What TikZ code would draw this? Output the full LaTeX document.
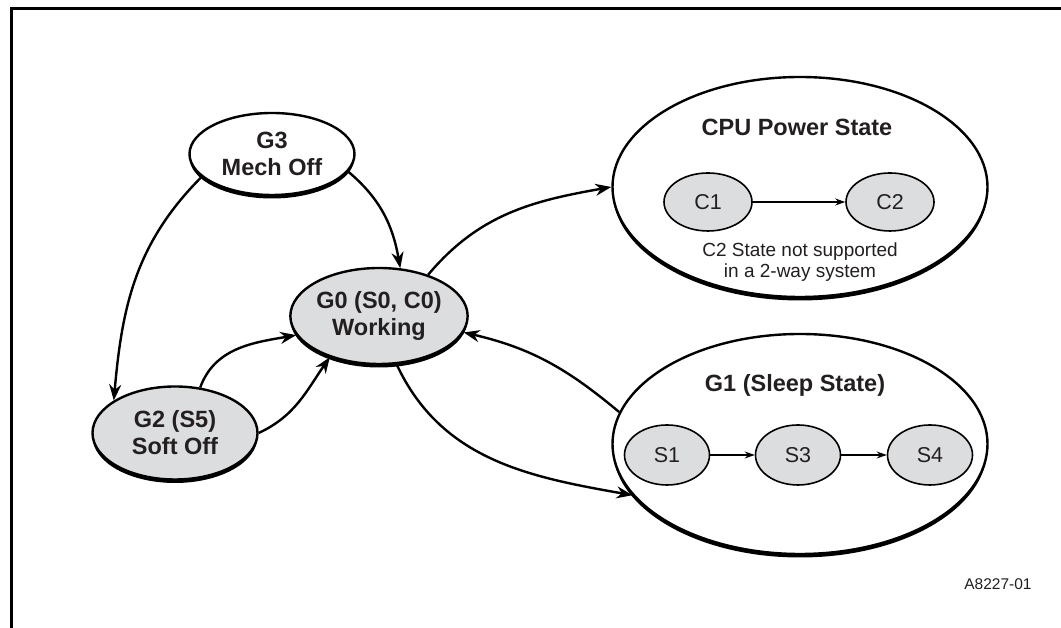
\documentclass[tikz,border=0pt]{standalone}
\usepackage{fontspec}
\setmainfont{Liberation Sans}
\usepackage{tikz}
\usetikzlibrary{arrows.meta,shapes.geometric,shadows}
\definecolor{ink}{HTML}{231F20}
\definecolor{state}{HTML}{DCDDDF}

\begin{document}
\begin{tikzpicture}[x=1pt,y=1pt,>={Stealth[length=16pt,width=12pt]},
  shade/.style={drop shadow={shadow xshift=0pt,shadow yshift=-3.5pt,fill=black,opacity=1}},
  gstate/.style={ellipse,draw=black,line width=2.4pt,fill=state,inner sep=0pt,shade,
    align=center,text=ink,font=\fontsize{23.5}{27}\selectfont\bfseries},
  group/.style={ellipse,draw=black,line width=2.4pt,fill=white,inner sep=0pt,shade},
  substate/.style={ellipse,draw=black,line width=1.6pt,fill=state,inner sep=0pt,
    text=ink,font=\fontsize{21.5}{24}\selectfont},
  title/.style={text=ink,font=\fontsize{23.5}{27}\selectfont\bfseries},
  flow/.style={line width=2.4pt,->},
  step arrow/.style={line width=1.3pt,-{Stealth[length=10pt,width=7pt]}}]
\useasboundingbox (0,0) rectangle (1061,628);
\draw[line width=3pt] (11,-2) -- (11,619) -- (1063,619);

\node[gstate,fill=white,minimum width=165pt,minimum height=82pt] (g3) at (272,474) {G3\\Mech Off};
\node[gstate,minimum width=163pt,minimum height=96pt] (g0) at (379,312) {G0 (S0, C0)\\Working};
\node[gstate,minimum width=165pt,minimum height=93pt] (g2) at (175,195) {G2 (S5)\\Soft Off};

\node[group,minimum width=375pt,minimum height=220pt] (cpu) at (800,441) {};
\node[title] (cputitle) at (797,501) {CPU Power State};
\node[substate,minimum width=88pt,minimum height=58pt] (c1) at (708,426) {C1};
\node[substate,minimum width=88pt,minimum height=58pt] (c2) at (890,426) {C2};
\draw[step arrow] (c1) -- (c2);
\node[text=ink,align=center,font=\fontsize{19}{20.5}\selectfont] (cnote) at (800,366)
  {C2 State not supported\\in a 2-way system};

\node[group,minimum width=375pt,minimum height=220pt] (g1) at (800,184) {};
\node[title] (g1title) at (795,243) {G1 (Sleep State)};
\foreach \n/\x/\t in {s1/667/S1,s3/798/S3,s4/930/S4}
  \node[substate,minimum width=85pt,minimum height=60pt] (\n) at (\x,173) {\t};
\draw[step arrow] (s1) -- (s3);
\draw[step arrow] (s3) -- (s4);

\draw[flow] (g3.198) to[out=225,in=85] (g2.152);
\draw[flow] (g3.347) to[out=-40,in=100] (g0.66);
\draw[flow] (g2.61) to[out=70,in=190] (g0.193);
\draw[flow] (g2.0) to[out=25,in=235] (g0.220);
\draw[flow] (g0.40) to[out=50,in=190] (cpu.180);
\draw[flow] (g1.170) to[out=140,in=-13] (g0.349);
\draw[flow] (g0.290) to[out=-65,in=170] (g1.197);

\node[text=ink,font=\fontsize{15.5}{18}\selectfont] (figid) at (998,44) {A8227-01};
\end{tikzpicture}
\end{document}
